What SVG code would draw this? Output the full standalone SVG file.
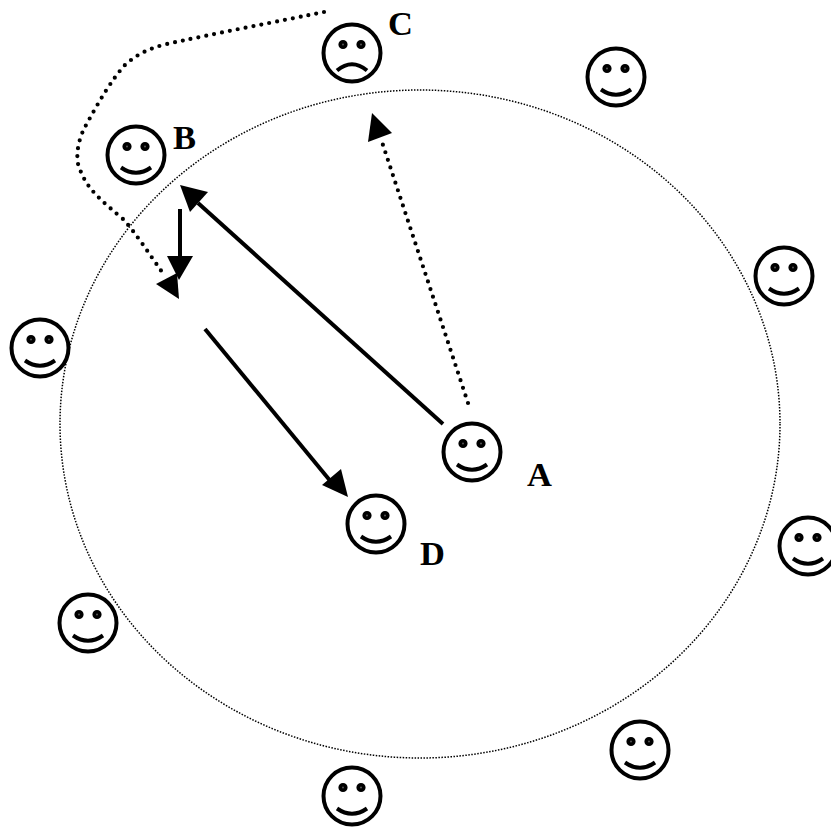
<svg xmlns="http://www.w3.org/2000/svg" width="831" height="827" viewBox="0 0 831 827">
<style>
.face{fill:none;stroke:#000;stroke-width:4}
.eye{fill:#555;stroke:#000;stroke-width:3.6}
.mouth{fill:none;stroke:#000;stroke-width:4;stroke-linecap:butt}
.solid{fill:none;stroke:#000;stroke-width:4}
.dots{fill:none;stroke:#000;stroke-width:4.2;stroke-linecap:round;stroke-dasharray:0 8}
.head{fill:#000;stroke:none}
.lab{font-family:"Liberation Serif","Times New Roman",serif;font-weight:bold;font-size:34.5px;fill:#000}
</style>
<defs>
<g id="smile"><circle class="face" r="28.5"/><circle class="eye" cx="-9" cy="-8.5" r="2.8"/><circle class="eye" cx="9" cy="-8.5" r="2.8"/><path class="mouth" d="M-15 12.5Q0 23 15 12.5"/></g>
<g id="frown"><circle class="face" r="28.5"/><circle class="eye" cx="-9" cy="-8.5" r="2.8"/><circle class="eye" cx="9" cy="-8.5" r="2.8"/><path class="mouth" d="M-15 17.5Q0 5 15 17.5"/></g>
</defs>
<g id="boundary"><ellipse cx="420" cy="424" rx="360" ry="334" fill="none" stroke="#000" stroke-width="1.5" stroke-dasharray="1.5 1.5"/></g>
<g id="connectors">
<path class="dots" d="M324 12C285 20 207 35 167 44C150 48 137 54 125 65C112 79 98 103 85 127C78 140 74 160 81 172C88 190 103 202 123 219C135 232 150 255 162 272"/>
<polygon class="head" points="179,299 156,284 177,273"/>
<path class="solid" d="M180 209V258"/>
<polygon class="head" points="179,280 167,256 193,256"/>
<path class="solid" d="M443 424L198 203"/>
<polygon class="head" points="180,185 208,192 190,212"/>
<path class="solid" d="M205 329L332 483"/>
<polygon class="head" points="348,497 322,485 341,469"/>
<path class="dots" d="M468 403L382 142"/>
<polygon class="head" points="372,113 368,142 392,133"/>
</g>
<g id="node-a"><use href="#smile" x="472" y="452"/><text class="lab" x="527" y="486">A</text></g>
<g id="node-b"><use href="#smile" x="136" y="155"/><text class="lab" x="173" y="149">B</text></g>
<g id="node-c"><use href="#frown" x="352" y="53"/><text class="lab" x="388" y="35">C</text></g>
<g id="node-d"><use href="#smile" x="376" y="524"/><text class="lab" x="420" y="565">D</text></g>
<g id="node-1"><use href="#smile" x="616" y="77"/></g>
<g id="node-2"><use href="#smile" x="784" y="276"/></g>
<g id="node-3"><use href="#smile" x="808" y="546"/></g>
<g id="node-4"><use href="#smile" x="640" y="750"/></g>
<g id="node-5"><use href="#smile" x="352" y="796"/></g>
<g id="node-6"><use href="#smile" x="88" y="623"/></g>
<g id="node-7"><use href="#smile" x="40" y="348"/></g>
</svg>
